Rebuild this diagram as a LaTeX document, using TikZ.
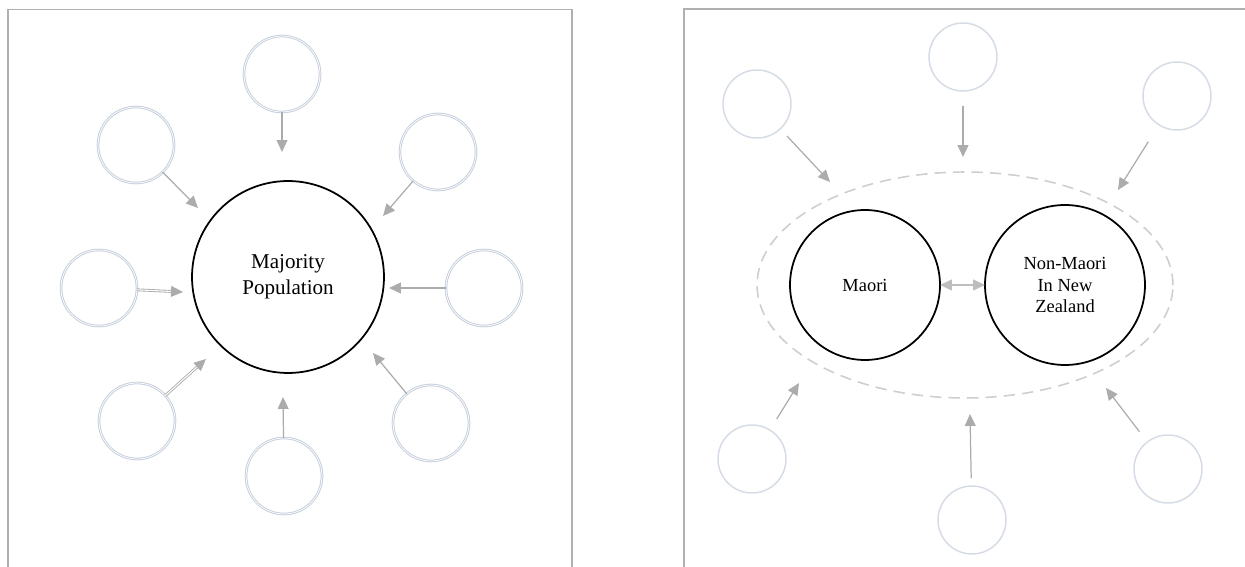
\documentclass[tikz,border=0pt]{standalone}
\usepackage{fontspec}
\setmainfont{Liberation Serif}
\usetikzlibrary{arrows.meta, shapes.geometric}

\definecolor{ringblue}{RGB}{198,207,220}
\definecolor{ringpale}{RGB}{214,220,230}
\definecolor{arrowgray}{RGB}{172,172,172}
\definecolor{linkgray}{RGB}{190,190,190}
\definecolor{panelgray}{RGB}{176,176,176}
\definecolor{dashgray}{RGB}{206,206,206}

\begin{document}
\begin{tikzpicture}[
  x=0.02cm, y=-0.02cm,
  core/.style={circle, draw=black, line width=1pt, inner sep=0pt, outer sep=0pt,
               align=center},
  bigcore/.style={core, minimum size=3.84cm, font=\fontsize{12}{14.5}\selectfont},
  midcore/.style={core, font=\fontsize{10.5}{12.5}\selectfont},
  ring/.style={circle, draw=ringblue, line width=0.55pt, double=white,
               double distance=0.4pt, minimum size=1.52cm, inner sep=0pt, outer sep=0pt},
  palering/.style={circle, draw=ringpale, line width=0.85pt, minimum size=1.36cm,
                   inner sep=0pt, outer sep=0pt},
  arr/.style={-{Triangle[length=6.8pt, width=6.2pt]}, draw=arrowgray, line width=0.7pt},
  duo/.style={arr, line width=0.5pt, double=white, double distance=0.6pt},
  panel/.style={draw=panelgray, line width=0.9pt}
]
  \useasboundingbox (0,0) rectangle (1245,567);

  % the two panels
  \draw[panel] (8,567) |- (572,9.5) -- (572,567);
  \draw[panel] (684,567) |- (1245,9);

  % left: majority population
  \node[bigcore] (major) at (288,277) {Majority\\Population};

  \node[ring] (popN)  at (282,74)  {};
  \node[ring] (popNW) at (136,145) {};
  \node[ring] (popNE) at (438,152) {};
  \node[ring] (popW)  at (99,288)  {};
  \node[ring] (popE)  at (484,288) {};
  \node[ring] (popSW) at (137,421) {};
  \node[ring] (popS)  at (284,476) {};
  \node[ring] (popSE) at (431,423) {};

  \coordinate (popNtip)  at (282,152);
  \coordinate (popNWtip) at (198,208);
  \coordinate (popNEtip) at (383,216);
  \coordinate (popWtip)  at (183,292);
  \coordinate (popEtip)  at (389,288);
  \coordinate (popSWtip) at (206,359);
  \coordinate (popStip)  at (283,397);
  \coordinate (popSEtip) at (373,353);

  \draw[arr] (popN)  -- (popNtip);
  \draw[arr] (popNW) -- (popNWtip);
  \draw[arr] (popNE) -- (popNEtip);
  \draw[duo] (popW)  -- (popWtip);
  \draw[arr] (popE)  -- (popEtip);
  \draw[duo] (popSW) -- (popSWtip);
  \draw[arr] (popS)  -- (popStip);
  \draw[arr] (popSE) -- (popSEtip);

  % right: maori and non-maori
  \node[ellipse, draw=dashgray, dash pattern=on 6.5pt off 4pt, line width=0.9pt,
        minimum width=8.32cm, minimum height=4.52cm, inner sep=0pt] (nz) at (965,285) {};
  \node[midcore, minimum size=3cm]   (maori)    at (865,285)  {Maori};
  \node[midcore, minimum size=3.2cm] (nonmaori) at (1065,285) {Non-Maori\\In New\\Zealand};
  \draw[arr, draw=linkgray,
        {Triangle[length=6.8pt, width=6.2pt]}-{Triangle[length=6.8pt, width=6.2pt]}]
    (maori) -- (nonmaori);

  \node[palering] (grpNW) at (757,104)  {};
  \node[palering] (grpN)  at (963,57)   {};
  \node[palering] (grpNE) at (1177,96)  {};
  \node[palering] (grpSW) at (752,459)  {};
  \node[palering] (grpS)  at (972,520)  {};
  \node[palering] (grpSE) at (1168,469) {};

  \coordinate (grpNWtip) at (830,182);
  \coordinate (grpNtip)  at (963,157);
  \coordinate (grpNEtip) at (1118,190);
  \coordinate (grpSWtip) at (799,383);
  \coordinate (grpStip)  at (970,414);
  \coordinate (grpSEtip) at (1106,388);

  \draw[arr, shorten <=0.2cm]  (grpNW) -- (grpNWtip);
  \draw[arr, shorten <=0.3cm]  (grpN)  -- (grpNtip);
  \draw[arr, shorten <=0.4cm]  (grpNE) -- (grpNEtip);
  \draw[arr, shorten <=0.26cm] (grpSW) -- (grpSWtip);
  \draw[arr, shorten <=0.16cm] (grpS)  -- (grpStip);
  \draw[arr, shorten <=0.26cm] (grpSE) -- (grpSEtip);
\end{tikzpicture}
\end{document}
